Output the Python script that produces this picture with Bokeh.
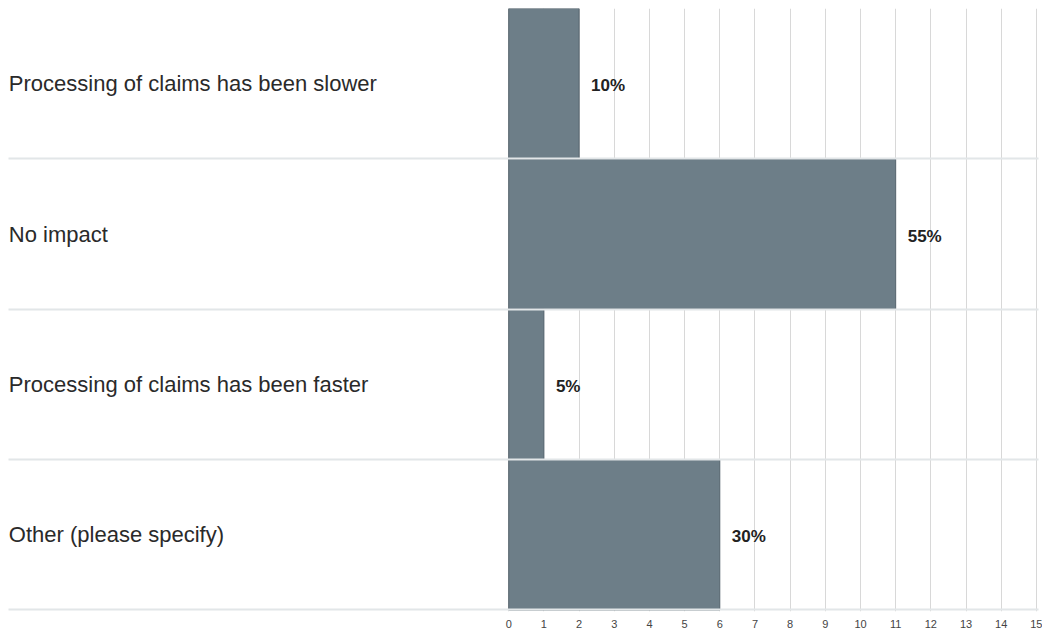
from bokeh.plotting import figure
from bokeh.models import Range1d, FixedTicker, ColumnDataSource
from bokeh.core.properties import value
from bokeh.embed import file_html
from bokeh.resources import INLINE

categories = [
    "Processing of claims has been slower",
    "No impact",
    "Processing of claims has been faster",
    "Other (please specify)",
]
counts = [2, 11, 1, 6]
percent_labels = ["10%", "55%", "5%", "30%"]
x_ticks = [0, 1, 2, 3, 4, 5, 6, 7, 8, 9, 10, 11, 12, 13, 14, 15]

n = len(categories)
ypos = [n - i - 0.5 for i in range(n)]

X_START, X_END = -14.22, 15.06

src = ColumnDataSource(dict(
    y=ypos, count=counts, cat=categories, pct=percent_labels,
    lx=[X_START + 0.01] * n,
))

p = figure(
    frame_width=1030, frame_height=603,
    x_range=Range1d(X_START, X_END), y_range=Range1d(-0.01, n),
    output_backend="svg", toolbar_location=None,
    min_border_left=8, min_border_top=8, min_border_right=4, min_border_bottom=0,
)
p.outline_line_color = None
p.background_fill_color = "white"
p.border_fill_color = "white"

p.hbar(y="y", right="count", left=0, height=1.0, source=src,
       fill_color="#6d7e88", line_color="#56656e", line_width=1)

p.text(x="count", y="y", text="pct", source=src, x_offset=12, y_offset=2,
       text_baseline="middle", text_align="left",
       text_font=value("Liberation Sans"), text_font_size="17px",
       text_font_style="bold", text_color="#222222")

p.text(x="lx", y="y", text="cat", source=src,
       text_baseline="middle", text_align="left",
       text_font=value("Liberation Sans"), text_font_size="22px",
       text_color="#2a2a2a")

p.xaxis.ticker = FixedTicker(ticks=x_ticks)
p.xaxis.axis_line_color = None
p.xaxis.major_tick_line_color = None
p.xaxis.minor_tick_line_color = None
p.xaxis.major_label_text_font = "Liberation Sans"
p.xaxis.major_label_text_font_size = "11px"
p.xaxis.major_label_text_color = "#444444"
p.xaxis.major_label_standoff = 2

p.yaxis.visible = False

p.xgrid.ticker = FixedTicker(ticks=x_ticks)
p.xgrid.grid_line_color = "#d8d8d8"
p.xgrid.grid_line_width = 1

p.ygrid.ticker = FixedTicker(ticks=[0, 1, 2, 3, 4])
p.ygrid.grid_line_color = "#e2e6e8"
p.ygrid.grid_line_width = 2
p.ygrid.level = "overlay"

open("out.html", "w").write(file_html(p, INLINE))
